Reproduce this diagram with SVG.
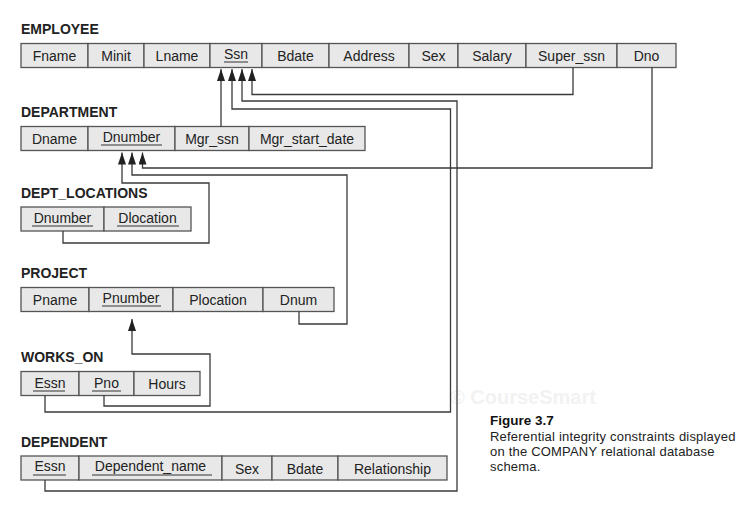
<svg xmlns="http://www.w3.org/2000/svg" width="756" height="505" viewBox="0 0 756 505">
<style>
.bg{fill:#ffffff}
.cell{fill:#e8e8e8;stroke:#555555;stroke-width:1.3}
.t{font-family:"Liberation Sans",Arial,sans-serif;font-size:14px;fill:#222222;text-anchor:middle}
.lbl{font-family:"Liberation Sans",Arial,sans-serif;font-size:14px;font-weight:bold;fill:#222222}
.ul{stroke:#333333;stroke-width:1}
.conn{fill:none;stroke:#3a3a3a;stroke-width:1.3}
.cap{font-family:"Liberation Sans",Arial,sans-serif;font-size:13px;letter-spacing:0.2px;fill:#222222}
.capb{font-family:"Liberation Sans",Arial,sans-serif;font-size:13.5px;font-weight:bold;fill:#111111}
.wm{font-family:"Liberation Sans",Arial,sans-serif;font-size:20px;font-weight:bold;fill:#f2f2f2}
</style>
<defs>
<marker id="arr" viewBox="0 0 12 8" refX="12" refY="4" markerWidth="12" markerHeight="8" markerUnits="userSpaceOnUse" orient="auto">
<path d="M0,0 L12,4 L0,8 z" fill="#222222"/>
</marker>
</defs>
<rect class="bg" x="0" y="0" width="756" height="505"/>

<text class="wm" x="450" y="404">© CourseSmart</text>

<g id="employee">
<text class="lbl" x="21" y="34">EMPLOYEE</text>
<rect class="cell" x="21" y="43.5" width="67" height="24"/>
<rect class="cell" x="88" y="43.5" width="56" height="24"/>
<rect class="cell" x="144" y="43.5" width="66" height="24"/>
<rect class="cell" x="210" y="43.5" width="52" height="24"/>
<rect class="cell" x="262" y="43.5" width="67" height="24"/>
<rect class="cell" x="329" y="43.5" width="80" height="24"/>
<rect class="cell" x="409" y="43.5" width="49" height="24"/>
<rect class="cell" x="458" y="43.5" width="68" height="24"/>
<rect class="cell" x="526" y="43.5" width="91" height="24"/>
<rect class="cell" x="617" y="43.5" width="59" height="24"/>
<text class="t" x="54.5" y="61">Fname</text>
<text class="t" x="116" y="61">Minit</text>
<text class="t" x="177" y="61">Lname</text>
<text class="t" x="236" y="59">Ssn</text>
<line class="ul" x1="224" y1="62" x2="248" y2="62"/>
<text class="t" x="295.5" y="61">Bdate</text>
<text class="t" x="369" y="61">Address</text>
<text class="t" x="433.5" y="61">Sex</text>
<text class="t" x="492" y="61">Salary</text>
<text class="t" x="571.5" y="61">Super_ssn</text>
<text class="t" x="646.5" y="61">Dno</text>
</g>

<g id="department">
<text class="lbl" x="21" y="117">DEPARTMENT</text>
<rect class="cell" x="21" y="126.5" width="67" height="24"/>
<rect class="cell" x="88" y="126.5" width="87" height="24"/>
<rect class="cell" x="175" y="126.5" width="74" height="24"/>
<rect class="cell" x="249" y="126.5" width="116" height="24"/>
<text class="t" x="54.5" y="144">Dname</text>
<text class="t" x="131.5" y="142">Dnumber</text>
<line class="ul" x1="101" y1="145" x2="162" y2="145"/>
<text class="t" x="212" y="144">Mgr_ssn</text>
<text class="t" x="307" y="144">Mgr_start_date</text>
</g>

<g id="dept_locations">
<text class="lbl" x="21" y="198">DEPT_LOCATIONS</text>
<rect class="cell" x="21" y="207" width="83" height="24"/>
<rect class="cell" x="104" y="207" width="87" height="24"/>
<text class="t" x="62.5" y="223">Dnumber</text>
<line class="ul" x1="32" y1="226" x2="93" y2="226"/>
<text class="t" x="147.5" y="223">Dlocation</text>
<line class="ul" x1="117" y1="226" x2="179" y2="226"/>
</g>

<g id="project">
<text class="lbl" x="21" y="278">PROJECT</text>
<rect class="cell" x="21" y="287.5" width="68" height="24"/>
<rect class="cell" x="89" y="287.5" width="84" height="24"/>
<rect class="cell" x="173" y="287.5" width="90" height="24"/>
<rect class="cell" x="263" y="287.5" width="71" height="24"/>
<text class="t" x="55" y="305">Pname</text>
<text class="t" x="131" y="303">Pnumber</text>
<line class="ul" x1="102" y1="306" x2="161" y2="306"/>
<text class="t" x="218" y="305">Plocation</text>
<text class="t" x="298.5" y="305">Dnum</text>
</g>

<g id="works_on">
<text class="lbl" x="21" y="362">WORKS_ON</text>
<rect class="cell" x="21" y="371.5" width="58" height="24"/>
<rect class="cell" x="79" y="371.5" width="55" height="24"/>
<rect class="cell" x="134" y="371.5" width="66" height="24"/>
<text class="t" x="50" y="388">Essn</text>
<line class="ul" x1="33" y1="391" x2="65" y2="391"/>
<text class="t" x="106.5" y="388">Pno</text>
<line class="ul" x1="92" y1="391" x2="121" y2="391"/>
<text class="t" x="167" y="389">Hours</text>
</g>

<g id="dependent">
<text class="lbl" x="21" y="447">DEPENDENT</text>
<rect class="cell" x="21" y="456" width="58" height="24"/>
<rect class="cell" x="79" y="456" width="143" height="24"/>
<rect class="cell" x="222" y="456" width="50" height="24"/>
<rect class="cell" x="272" y="456" width="66" height="24"/>
<rect class="cell" x="338" y="456" width="109" height="24"/>
<text class="t" x="50" y="471">Essn</text>
<line class="ul" x1="33" y1="475" x2="66" y2="475"/>
<text class="t" x="150.5" y="471">Dependent_name</text>
<line class="ul" x1="92" y1="475" x2="212" y2="475"/>
<text class="t" x="247" y="474">Sex</text>
<text class="t" x="305" y="474">Bdate</text>
<text class="t" x="392.5" y="474">Relationship</text>
</g>

<g id="connectors">
<path class="conn" marker-end="url(#arr)" d="M221,126.5 V69"/>
<path class="conn" marker-end="url(#arr)" d="M45,480 V491 H457 V101 H242 V69"/>
<path class="conn" marker-end="url(#arr)" d="M45,395.5 V412 H450.5 V109 H232 V69"/>
<path class="conn" marker-end="url(#arr)" d="M573,67.5 V94.5 H252 V69"/>
<path class="conn" marker-end="url(#arr)" d="M652,67.5 V168 H142.5 V152.5"/>
<path class="conn" marker-end="url(#arr)" d="M299,311.5 V324 H347 V175 H132 V152.5"/>
<path class="conn" marker-end="url(#arr)" d="M63,231 V243 H209 V183 H122 V152.5"/>
<path class="conn" marker-end="url(#arr)" d="M104,395.5 V406 H210 V354 H132 V319"/>
</g>

<g id="caption">
<text class="capb" x="490" y="425">Figure 3.7</text>
<text class="cap" x="490" y="441">Referential integrity constraints displayed</text>
<text class="cap" x="490" y="456">on the COMPANY relational database</text>
<text class="cap" x="490" y="471">schema.</text>
</g>
</svg>
